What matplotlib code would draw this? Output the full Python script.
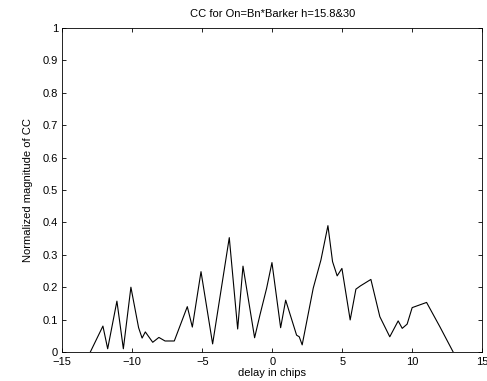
import matplotlib
matplotlib.use("Agg")
import matplotlib.pyplot as plt

delay = [-13.0, -12.1, -11.76, -11.1, -10.64, -10.1, -9.55, -9.3, -9.07, -8.54, -8.1, -7.66, -7.0,
         -6.07, -5.71, -5.09, -4.26, -3.07, -2.47, -2.09, -1.26, -0.88, -0.4, -0.02, 0.6, 0.96,
         1.74, 1.93, 2.14, 2.93, 3.48, 3.98, 4.31, 4.64, 4.98, 5.57, 5.98, 6.3, 7.05, 7.69, 8.4,
         9.0, 9.29, 9.64, 10.0, 11.03, 11.98, 12.93]
magnitude = [0.0, 0.08, 0.01, 0.157, 0.01, 0.2, 0.075, 0.043, 0.062, 0.03, 0.045, 0.034, 0.034,
             0.14, 0.077, 0.248, 0.025, 0.353, 0.071, 0.265, 0.044, 0.114, 0.197, 0.276, 0.075, 0.16,
             0.052, 0.047, 0.022, 0.197, 0.284, 0.39, 0.279, 0.235, 0.258, 0.099, 0.194, 0.204, 0.224,
             0.109, 0.047, 0.096, 0.073, 0.086, 0.137, 0.153, 0.078, 0.0]

xticks = [-15, -10, -5, 0, 5, 10, 15]
yticks = [0, 0.1, 0.2, 0.3, 0.4, 0.5, 0.6, 0.7, 0.8, 0.9, 1]
ytick_labels = ["0", "0.1", "0.2", "0.3", "0.4", "0.5", "0.6", "0.7", "0.8", "0.9", "1"]

plt.rcParams['font.family'] = ['Liberation Sans', 'DejaVu Sans']
plt.rcParams['font.size'] = 8

fig = plt.figure(figsize=(4.87, 3.81), dpi=100)
ax = fig.add_axes([0.128, 0.0761, 0.862, 0.8504])
ax.plot(delay, magnitude, color='black', linewidth=0.8)
ax.set_xlim(-15, 15)
ax.set_ylim(0, 1)
ax.set_xticks(xticks)
ax.set_yticks(yticks)
ax.set_yticklabels(ytick_labels)
ax.tick_params(direction='in', top=True, right=True, length=3, width=0.6, labelsize=8)
ax.tick_params(axis='x', pad=3.5)
ax.tick_params(axis='y', pad=3)
for s in ax.spines.values():
    s.set_linewidth(0.6)
ax.set_title("CC for On=Bn*Barker h=15.8&30", fontsize=8, pad=8)
ax.set_xlabel("delay in chips", fontsize=8, labelpad=1)
ax.set_ylabel("Normalized magnitude of CC", fontsize=8, labelpad=7)
fig.savefig("out.png", dpi=100)
